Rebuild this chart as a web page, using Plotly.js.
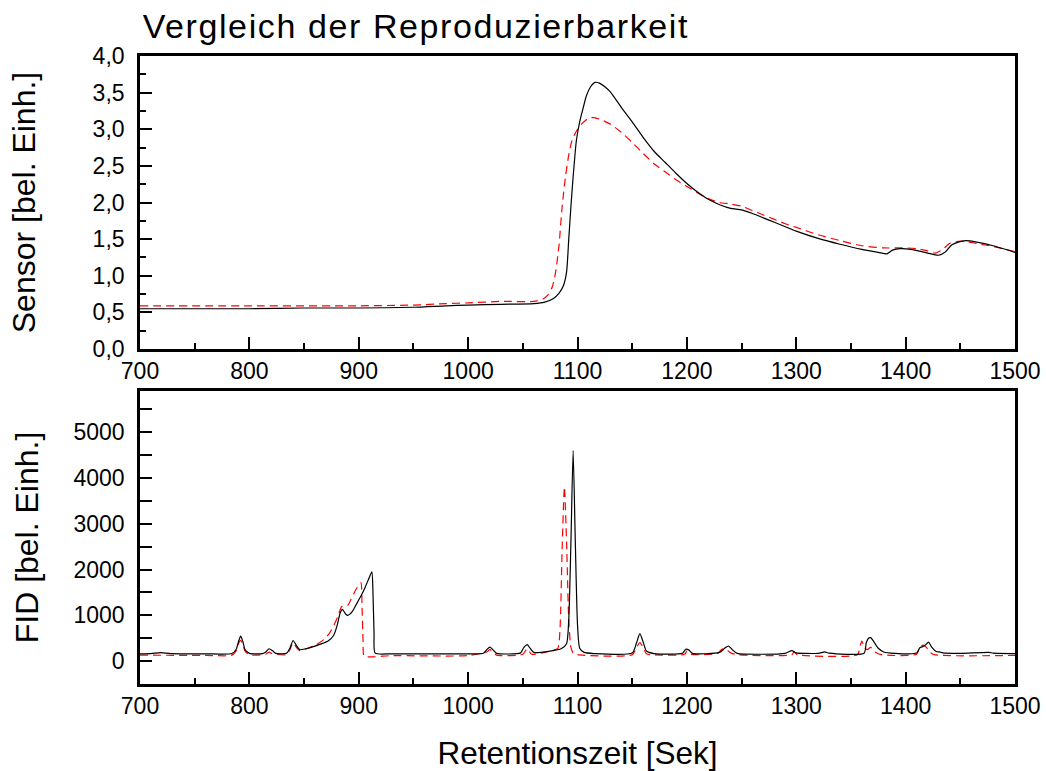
<!DOCTYPE html>
<html>
<head>
<meta charset="utf-8">
<script src="https://cdn.plot.ly/plotly-3.0.1.min.js"></script>
<style>
html,body{margin:0;padding:0;background:#fff;}
#chart{width:1046px;height:771px;}
.gtitle{letter-spacing:1.6px;}
</style>
</head>
<body>
<div id="chart"></div>
<script>
// ---- Top panel: sensor signal ----
var sensorTimeA = [700,750,800,850,900,950,980,1000,1030,1060,1070,1078,1083,1087,1090,1092,1094,1096,1099,1102,1105,1108,1112,1116,1120,1125,1130,1140,1150,1160,1170,1180,1190,1200,1210,1220,1230,1240,1250,1260,1270,1280,1290,1300,1320,1340,1360,1375,1383,1388,1395,1405,1420,1430,1436,1442,1448,1455,1465,1480,1500];
var sensorRunA  = [0.55,0.55,0.55,0.56,0.56,0.57,0.59,0.60,0.61,0.62,0.64,0.69,0.76,0.86,1.05,1.50,1.95,2.35,2.85,3.10,3.28,3.45,3.58,3.64,3.63,3.58,3.51,3.30,3.10,2.89,2.70,2.55,2.40,2.26,2.14,2.04,1.97,1.92,1.90,1.85,1.79,1.73,1.67,1.61,1.51,1.43,1.36,1.32,1.30,1.35,1.37,1.36,1.31,1.28,1.32,1.42,1.46,1.48,1.46,1.41,1.32];

var sensorTimeB = [700,800,900,950,980,1000,1030,1060,1068,1073,1077,1080,1083,1086,1089,1092,1095,1100,1105,1110,1115,1120,1130,1140,1150,1160,1170,1180,1190,1200,1210,1220,1230,1240,1250,1260,1270,1280,1290,1300,1320,1340,1360,1380,1400,1410,1420,1427,1434,1440,1448,1455,1465,1480,1500];
var sensorRunB  = [0.59,0.59,0.59,0.60,0.62,0.63,0.65,0.65,0.68,0.74,0.85,1.05,1.40,1.95,2.35,2.65,2.85,3.00,3.09,3.15,3.16,3.14,3.07,2.96,2.82,2.67,2.53,2.42,2.31,2.22,2.13,2.05,2.00,1.98,1.95,1.89,1.83,1.77,1.71,1.66,1.56,1.48,1.41,1.38,1.38,1.37,1.34,1.31,1.36,1.44,1.47,1.47,1.44,1.40,1.33];

// ---- Bottom panel: FID signal ----
var fidTimeA = [700,710,719,728,760,784,788,790,792,794,796,800,812,815,818,821,824,834,837,840,843,846,855,865,872,877,880,883,885,888,890,894,898,902,906,910,912,913,914,915,930,1000,1014,1017,1020,1023,1026,1048,1051,1054,1057,1060,1075,1085,1090,1092,1094,1096,1098,1100,1102,1106,1115,1150,1154,1157,1160,1163,1170,1196,1199,1202,1205,1230,1235,1238,1242,1246,1290,1296,1300,1320,1326,1330,1362,1364,1366,1368,1371,1375,1380,1390,1410,1413,1416,1418,1421,1424,1428,1431,1434,1450,1476,1480,1500];
var fidRunA  = [160,165,185,162,160,165,260,420,547,430,250,170,165,200,270,230,170,170,280,450,340,250,290,370,440,560,760,1050,1130,1030,1000,1080,1250,1420,1620,1850,1950,1500,600,175,160,160,170,250,306,240,170,180,300,358,270,190,220,270,380,900,2600,4600,2600,800,280,190,165,175,400,600,420,220,165,170,260,240,170,190,290,330,240,170,170,230,180,170,200,175,170,400,500,512,420,280,200,170,175,290,320,350,416,300,210,200,180,170,190,175,165];

var fidTimeB = [700,760,784,788,790,792,794,796,800,815,818,821,834,837,840,843,846,860,868,873,878,881,884,886,890,893,897,900,902,903,904,905,930,1000,1017,1020,1023,1026,1050,1054,1058,1075,1082,1084,1086,1088,1090,1092,1094,1096,1100,1150,1154,1157,1160,1163,1170,1198,1200,1203,1228,1232,1235,1240,1246,1296,1298,1301,1356,1358,1360,1362,1365,1368,1372,1378,1410,1413,1416,1419,1422,1426,1500];
var fidRunB  = [130,125,130,230,380,453,370,220,135,150,197,160,140,250,400,300,230,343,470,600,820,980,1180,1220,1220,1350,1547,1660,1710,1200,400,110,120,120,200,250,190,130,150,271,150,220,280,700,2500,3807,2600,900,300,180,140,140,300,403,300,160,135,150,219,150,170,260,271,180,140,140,200,140,140,300,438,300,250,300,200,140,150,300,350,300,200,140,125];

var titleText = 'Vergleich der Reproduzierbarkeit';
var xTitle = 'Retentionszeit [Sek]';
var yTitleTop = 'Sensor [bel. Einh.]';
var yTitleBottom = 'FID [bel. Einh.]';

var FONT = 'Arial, "Liberation Sans", sans-serif';
var lineBlack = {color:'#000000', width:1.2, shape:'spline', smoothing:0.6};
var lineRed = {color:'#ff0000', width:1.2, dash:'8px,5px', shape:'spline', smoothing:0.6};

var traces = [
  {x:sensorTimeB, y:sensorRunB, xaxis:'x', yaxis:'y', mode:'lines', line:lineRed, showlegend:false, hoverinfo:'skip'},
  {x:sensorTimeA, y:sensorRunA, xaxis:'x', yaxis:'y', mode:'lines', line:lineBlack, showlegend:false, hoverinfo:'skip'},
  {x:fidTimeB, y:fidRunB, xaxis:'x2', yaxis:'y2', mode:'lines', line:lineRed, showlegend:false, hoverinfo:'skip'},
  {x:fidTimeA, y:fidRunA, xaxis:'x2', yaxis:'y2', mode:'lines', line:lineBlack, showlegend:false, hoverinfo:'skip'}
];

var tickFont = {family:FONT, size:23, color:'#000'};
var yTitleFont = {family:FONT, size:32, color:'#000'};
var xTitleFont = {family:FONT, size:31.5, color:'#000'};

function mainX(anchor) {
  return {
    anchor: anchor, range:[700,1500], autorange:false,
    showline:true, linewidth:2.8, linecolor:'#000', mirror:true,
    ticks:'inside', ticklen:12, tickwidth:2, tickcolor:'#000', dtick:100, tick0:700,
    minor:{ticks:'inside', ticklen:6, tickwidth:2, tickcolor:'#000', dtick:50, tick0:700, showgrid:false},
    showgrid:false, zeroline:false, tickfont:tickFont, fixedrange:true
  };
}
function topMirrorX(overlay, anchor) {
  return {overlaying:overlay, anchor:anchor, side:'top', range:[700,1500], autorange:false,
    showline:false, ticks:'inside', ticklen:6, tickwidth:2, tickcolor:'#000', dtick:50, tick0:700,
    showticklabels:false, showgrid:false, zeroline:false, fixedrange:true};
}
function rightMirrorY(overlay, anchor, range, dtick) {
  return {overlaying:overlay, anchor:anchor, side:'right', range:range, autorange:false,
    showline:false, ticks:'inside', ticklen:6, tickwidth:2, tickcolor:'#000', dtick:dtick, tick0:0,
    showticklabels:false, showgrid:false, zeroline:false, fixedrange:true};
}

var layout = {
  width:1046, height:771,
  margin:{l:140, r:31, t:56, b:87},
  paper_bgcolor:'#fff', plot_bgcolor:'#fff',
  separators:',.',
  showlegend:false,
  font:{family:FONT, color:'#000'},
  title:{text:titleText, font:{family:FONT, size:34, color:'#000'}, xref:'paper', x:0.003, xanchor:'left', yref:'container', y:0.966, yanchor:'middle'},
  xaxis: mainX('y'),
  yaxis: {domain:[0.5334,1], anchor:'x', range:[0,4], autorange:false,
    showline:true, linewidth:2.8, linecolor:'#000', mirror:true,
    ticks:'inside', ticklen:12, tickwidth:2, tickcolor:'#000', dtick:0.5, tick0:0, tickformat:'.1f',
    minor:{ticks:'inside', ticklen:6, tickwidth:2, tickcolor:'#000', dtick:0.25, tick0:0, showgrid:false},
    showgrid:false, zeroline:false, tickfont:tickFont, ticklabelstandoff:8,
    title:{text:yTitleTop, font:yTitleFont, standoff:48}, fixedrange:true},
  xaxis2: (function(){var a = mainX('y2'); a.title = {text:xTitle, font:xTitleFont, standoff:24}; return a;})(),
  yaxis2: {domain:[0,0.4666], anchor:'x2', range:[-500,5900], autorange:false,
    showline:true, linewidth:2.8, linecolor:'#000', mirror:true,
    ticks:'inside', ticklen:12, tickwidth:2, tickcolor:'#000', dtick:1000, tick0:0,
    minor:{ticks:'inside', ticklen:12, tickwidth:2, tickcolor:'#000', dtick:500, tick0:0, showgrid:false},
    showgrid:false, zeroline:false, tickfont:tickFont, ticklabelstandoff:8,
    title:{text:yTitleBottom, font:yTitleFont, standoff:26}, fixedrange:true},
  xaxis3: topMirrorX('x','y'),
  yaxis3: rightMirrorY('y','x',[0,4],0.25),
  xaxis4: topMirrorX('x2','y2'),
  yaxis4: rightMirrorY('y2','x2',[-500,5900],500)
};

Plotly.newPlot('chart', traces, layout, {displayModeBar:false, staticPlot:true});
</script>
</body>
</html>
